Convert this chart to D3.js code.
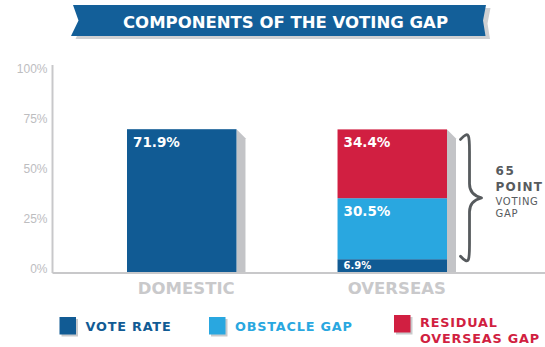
<!DOCTYPE html>
<html>
<head>
<meta charset="utf-8">
<script src="https://cdn.jsdelivr.net/npm/d3@7"></script>
<style>
  html, body { margin: 0; padding: 0; background: #fff; }
  svg { display: block; font-family: "DejaVu Sans", sans-serif; }
</style>
</head>
<body>
<svg id="chart" width="545" height="347"></svg>
<script>
// Chart data
const categories = ["DOMESTIC", "OVERSEAS"];
const voteRate = [71.9, 6.9];
const obstacleGap = [0, 30.5];
const residualGap = [0, 34.4];
const seriesKeys = ["vote", "obstacle", "residual"];
const seriesNames = ["VOTE RATE", "OBSTACLE GAP", "RESIDUAL OVERSEAS GAP"];
const yTicks = [0, 25, 50, 75, 100];
const title = "COMPONENTS OF THE VOTING GAP";
const braceLabel = ["65", "POINT", "VOTING", "GAP"];

const colors = { vote: "#115b94", obstacle: "#29a7e0", residual: "#d11f41" };
const shadowGray = "#c3c4c7";
const axisGray = "#c8c8ca";

const rows = categories.map((c, i) => ({
  category: c, vote: voteRate[i], obstacle: obstacleGap[i], residual: residualGap[i]
}));

const svg = d3.select("#chart");

// Title ribbon
const ribbon = [[73, 5], [486, 5], [483, 20.5], [485.5, 36], [71, 36], [78.5, 20.5]];
svg.append("polygon")
  .attr("points", ribbon.map(p => [p[0] + 4.5, p[1] + 3]).join(" "))
  .attr("fill", "#cfd0d2");
svg.append("polygon")
  .attr("points", ribbon.join(" "))
  .attr("fill", "#135f99");
svg.append("text")
  .attr("x", 285.5).attr("y", 28)
  .attr("text-anchor", "middle")
  .attr("fill", "#fff")
  .attr("font-weight", "bold")
  .attr("font-size", 16.5)
  .text(title);

// Scales
const x = d3.scaleBand().domain(categories).range([53, 521])
  .paddingInner(0.48).paddingOuter(0.3515);
const y = d3.scaleLinear().domain([0, 100]).range([273, 73]);

// Y axis
const yAxis = svg.append("g").attr("transform", "translate(52.5,0)")
  .call(d3.axisLeft(y).tickValues(yTicks).tickSize(0).tickPadding(5).tickFormat(d => d + "%"));
yAxis.select(".domain").remove();
yAxis.selectAll("text")
  .attr("fill", "#bdbdbf")
  .attr("font-size", 12)
  .attr("dy", "-0.02em");
svg.append("line")
  .attr("x1", 52.5).attr("x2", 52.5).attr("y1", 65).attr("y2", 273)
  .attr("stroke", axisGray).attr("stroke-width", 2);

// Stacked bars
const stack = d3.stack().keys(seriesKeys)(rows);
const totals = rows.map(r => seriesKeys.reduce((s, k) => s + r[k], 0));

// Bar shadows
const sd = 9;
svg.append("g").selectAll("polygon")
  .data(rows)
  .join("polygon")
  .attr("fill", shadowGray)
  .attr("points", (d, i) => {
    const r = x(d.category) + x.bandwidth();
    const t = y(totals[i]);
    const b = y(0);
    return [[r, t], [r + sd, t + sd], [r + sd, b], [r, b]].join(" ");
  });

const layers = svg.append("g").selectAll("g")
  .data(stack)
  .join("g")
  .attr("fill", d => colors[d.key]);

layers.selectAll("rect")
  .data(d => d.map(v => Object.assign(v, { key: d.key })))
  .join("rect")
  .attr("x", d => x(d.data.category))
  .attr("width", x.bandwidth())
  .attr("y", d => y(d[1]))
  .attr("height", d => y(d[0]) - y(d[1]));

// Value labels inside segments
layers.selectAll("text")
  .data(d => d.filter(v => v[1] - v[0] > 0))
  .join("text")
  .attr("x", d => x(d.data.category) + 6)
  .attr("y", d => (d[1] - d[0]) < 10 ? y(d[1]) + 10 : y(d[1]) + 18)
  .attr("fill", "#fff")
  .attr("font-weight", "bold")
  .attr("font-size", d => (d[1] - d[0]) < 10 ? 10 : 13.5)
  .text(d => d3.format(".1f")(d[1] - d[0]) + "%");

// Baseline
svg.append("line")
  .attr("x1", 52.5).attr("x2", 545).attr("y1", 273).attr("y2", 273)
  .attr("stroke", axisGray).attr("stroke-width", 2);

// Category labels
svg.append("g").selectAll("text")
  .data(categories)
  .join("text")
  .attr("x", d => x(d) + (x.bandwidth() + sd) / 2)
  .attr("y", 294)
  .attr("text-anchor", "middle")
  .attr("fill", "#c9c9cb")
  .attr("font-weight", "bold")
  .attr("font-size", 16.5)
  .text(d => d);

// Brace spanning the overseas gap
const oi = 1;
const gapTop = y(totals[oi]) + 10;
const gapBot = y(voteRate[oi]) - 3;
const bx0 = x(categories[oi]) + x.bandwidth() + 13.5;
const bx1 = bx0 + 21;
const bMid = (gapTop + gapBot) / 2;
const bxm = (bx0 + bx1) / 2 - 1.5;
const bracePath = d3.path();
bracePath.moveTo(bx0, gapTop);
bracePath.bezierCurveTo(bx0 + 9, gapTop - 10, bxm, gapTop - 3, bxm, gapTop + 12);
bracePath.lineTo(bxm, bMid - 14);
bracePath.bezierCurveTo(bxm, bMid - 4, bx1 - 4, bMid - 1, bx1, bMid);
bracePath.bezierCurveTo(bx1 - 4, bMid + 1, bxm, bMid + 4, bxm, bMid + 14);
bracePath.lineTo(bxm, gapBot - 12);
bracePath.bezierCurveTo(bxm, gapBot + 3, bx0 + 9, gapBot + 10, bx0, gapBot);
svg.append("path")
  .attr("d", bracePath.toString())
  .attr("fill", "none")
  .attr("stroke", "#575b5e")
  .attr("stroke-width", 2.8)
  .attr("stroke-linecap", "round")
  .attr("stroke-linejoin", "round");

const bl = svg.append("g").attr("fill", "#575b5e").attr("font-weight", "bold");
bl.append("text").attr("x", 495.5).attr("y", 175).attr("font-size", 12).attr("letter-spacing", 1.6).text(braceLabel[0]);
bl.append("text").attr("x", 495.5).attr("y", 191).attr("font-size", 12).attr("letter-spacing", 1.2).text(braceLabel[1]);
bl.append("text").attr("x", 495.5).attr("y", 205).attr("font-size", 10).attr("font-weight", "normal").attr("letter-spacing", 0.7).text(braceLabel[2]);
bl.append("text").attr("x", 495.5).attr("y", 216.7).attr("font-size", 10).attr("font-weight", "normal").attr("letter-spacing", 0.7).text(braceLabel[3]);

// Legend
const legendItems = [
  { key: "vote", x: 59.5, lines: [seriesNames[0]] },
  { key: "obstacle", x: 209, lines: [seriesNames[1]] },
  { key: "residual", x: 394, lines: ["RESIDUAL", "OVERSEAS GAP"] }
];
const lg = svg.append("g").selectAll("g").data(legendItems).join("g")
  .attr("transform", d => `translate(${d.x},0)`);
lg.append("rect").attr("x", 2).attr("y", d => d.lines.length > 1 ? 317 : 319)
  .attr("width", 16.5).attr("height", 17.5).attr("fill", "#c9cacc");
lg.append("rect").attr("x", 0).attr("y", d => d.lines.length > 1 ? 315 : 317)
  .attr("width", 16.5).attr("height", 17.5).attr("fill", d => colors[d.key]);
lg.each(function(d) {
  const g = d3.select(this);
  d.lines.forEach((ln, j) => {
    g.append("text")
      .attr("x", 26)
      .attr("y", d.lines.length > 1 ? 327.4 + j * 16 : 331)
      .attr("fill", colors[d.key])
      .attr("font-weight", "bold")
      .attr("font-size", 12.8)
      .attr("letter-spacing", 0.8)
      .text(ln);
  });
});
</script>
</body>
</html>
